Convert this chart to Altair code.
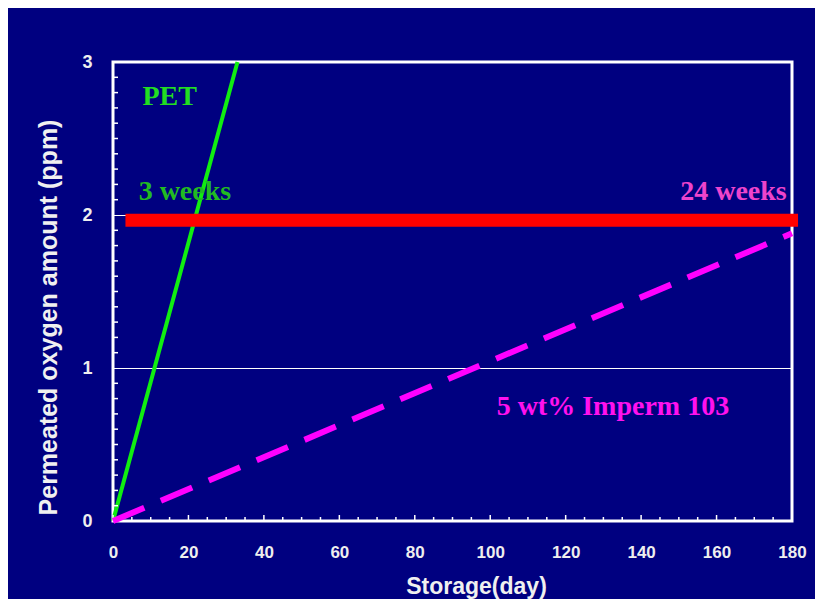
import altair as alt
import pandas as pd

# ---- data ----
pet_days = [0, 33]
pet_ppm = [0, 3]

imperm_days = [0, 180]
imperm_ppm = [0, 1.88]

limit_days = [3.3, 181.6]
limit_ppm = [1.965, 1.965]

x_tick_values = [0, 20, 40, 60, 80, 100, 120, 140, 160, 180]
y_tick_values = [0, 1, 2, 3]
x_minor_values = [d for d in range(0, 181, 5) if d % 20 != 0]
y_minor_values = [round(v / 10, 1) for v in range(0, 31) if v % 10 != 0]

label_text = ["PET", "3 weeks", "5 wt% Imperm 103"]
label_day = [7.8, 6.8, 101.7]
label_ppm = [2.72, 2.095, 0.69]
label_color = ["#22dd22", "#22bb22", "#ff11ee"]

right_text = ["24 weeks"]
right_day = [178.6]
right_ppm = [2.095]
right_color = ["#ee44cc"]

# ---- tables ----
pet = pd.DataFrame({"day": pet_days, "ppm": pet_ppm})
imperm = pd.DataFrame({"day": imperm_days, "ppm": imperm_ppm})
limit = pd.DataFrame({"day": limit_days, "ppm": limit_ppm})
xminor = pd.DataFrame({"day": x_minor_values})
xmajor = pd.DataFrame({"day": x_tick_values})
yminor = pd.DataFrame({"ppm": y_minor_values})
labels_l = pd.DataFrame({"day": label_day, "ppm": label_ppm, "t": label_text, "c": label_color})
labels_r = pd.DataFrame({"day": right_day, "ppm": right_ppm, "t": right_text, "c": right_color})

W, H = 679, 459
SANS = "Liberation Sans"
SERIF = "Liberation Serif"

xs = alt.Scale(domain=[0, 180], nice=False, zero=False)
ys = alt.Scale(domain=[0, 3], nice=False, zero=False)

x_axis = alt.Axis(
    values=x_tick_values, format="d", title="Storage(day)",
    ticks=False, tickSize=0, domain=False, grid=False,
    labelFont=SANS, labelFontSize=17, labelFontWeight="bold", labelColor="#eeeeee",
    labelPadding=23, labelFlush=False, labelOverlap=False,
    titleFont=SANS, titleFontSize=23, titleFontWeight="bold", titleColor="#f0f0f0",
    titleX=363, titleY=72, titleAlign="center", titleBaseline="alphabetic",
)
y_axis = alt.Axis(
    values=y_tick_values, format="d", title="Permeated oxygen amount (ppm)",
    ticks=False, tickSize=0, domain=False,
    grid=True, gridColor="white", gridWidth=1, gridOpacity=1,
    labelFont=SANS, labelFontSize=18, labelFontWeight="bold", labelColor="#eeeeee",
    labelPadding=21, labelFlush=False, labelOverlap=False,
    titleFont=SANS, titleFontSize=25, titleFontWeight="bold", titleColor="#f0f0f0",
    titleAngle=270, titleX=-57, titleY=255, titleAlign="center", titleBaseline="alphabetic",
)

X = alt.X("day:Q", scale=xs, axis=x_axis, title="Storage(day)")
Y = alt.Y("ppm:Q", scale=ys, axis=y_axis, title="Permeated oxygen amount (ppm)")

pet_line = alt.Chart(pet).mark_line(color="#11ee11", strokeWidth=4).encode(x=X, y=Y)

imperm_line = alt.Chart(imperm).mark_line(
    color="#ff00ff", strokeWidth=6, strokeDash=[34, 18], strokeCap="butt"
).encode(x=X, y=Y)

limit_line = alt.Chart(limit).mark_line(
    color="#ff0000", strokeWidth=13, strokeCap="butt"
).encode(x=X, y=Y)

x_minor_ticks = alt.Chart(xminor).mark_rule(color="white", strokeWidth=1.5).encode(
    x=X, y=alt.value(H), y2=alt.value(H - 4)
)
x_major_ticks = alt.Chart(xmajor).mark_rule(color="white", strokeWidth=1.5).encode(
    x=X, y=alt.value(H), y2=alt.value(H - 6)
)
y_minor_ticks = alt.Chart(yminor).mark_rule(color="white", strokeWidth=1.5).encode(
    y=Y, x=alt.value(0), x2=alt.value(5)
)

text_left = alt.Chart(labels_l).mark_text(
    font=SERIF, fontSize=28, fontWeight="bold", align="left", baseline="alphabetic"
).encode(
    x=X, y=Y, text="t:N",
    color=alt.Color("c:N", scale=None, legend=None),
)
text_right = alt.Chart(labels_r).mark_text(
    font=SERIF, fontSize=28, fontWeight="bold", align="right", baseline="alphabetic"
).encode(
    x=X, y=Y, text="t:N",
    color=alt.Color("c:N", scale=None, legend=None),
)

chart = alt.layer(
    pet_line, x_minor_ticks, x_major_ticks, y_minor_ticks,
    limit_line, imperm_line, text_left, text_right,
).properties(
    width=W, height=H,
    padding={"left": 105, "top": 54, "right": 23, "bottom": 78},
    autosize=alt.AutoSizeParams(type="none"),
    background="#000080",
).configure_view(
    stroke="white", strokeWidth=3, fill="#000080"
)

chart.save("out.html", embed_options={"renderer": "svg", "actions": False})
